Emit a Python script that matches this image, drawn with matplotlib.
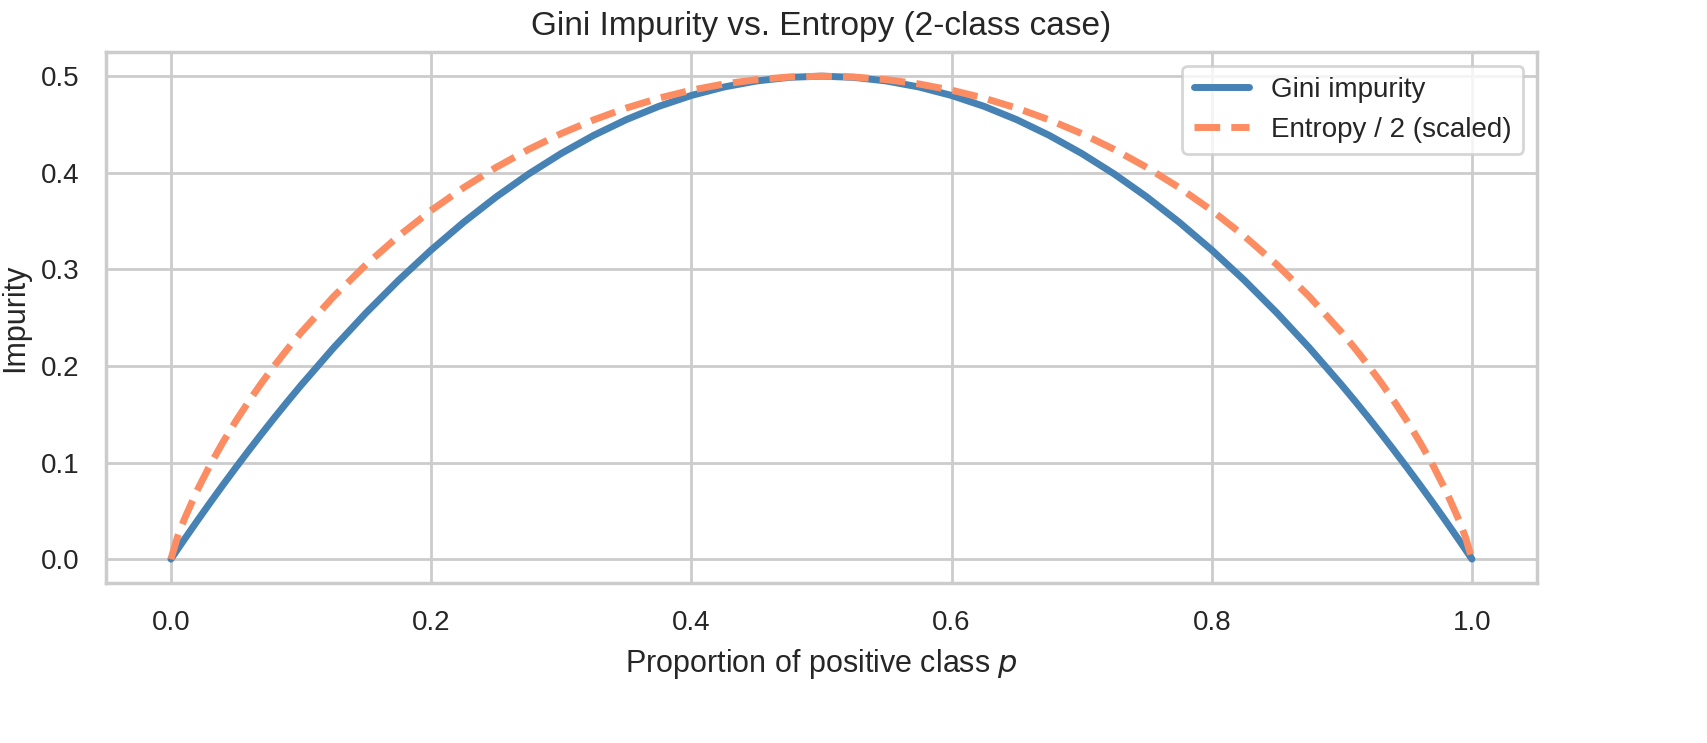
import matplotlib
matplotlib.use("Agg")
import matplotlib.pyplot as plt
import seaborn as sns

# values (left half, the curves are symmetric about p=0.5)
p_left = [0.0, 0.005, 0.01, 0.02, 0.03, 0.04, 0.05, 0.06, 0.07, 0.08, 0.09, 0.1, 0.125, 0.15, 0.175,
          0.2, 0.225, 0.25, 0.275, 0.3, 0.325, 0.35, 0.375, 0.4, 0.425, 0.45, 0.475, 0.5]
gini_left = [0.0, 0.00995, 0.0198, 0.0392, 0.0582, 0.0768, 0.095, 0.1128, 0.1302, 0.1472, 0.1638, 0.18,
             0.21875, 0.255, 0.28875, 0.32, 0.34875, 0.375, 0.39875, 0.42, 0.43875, 0.455, 0.46875,
             0.48, 0.48875, 0.495, 0.49875, 0.5]
entropy_half_left = [0.0, 0.0227, 0.0404, 0.0707, 0.0972, 0.1211, 0.1432, 0.1637, 0.1830, 0.2011, 0.2183,
                     0.2345, 0.2718, 0.3049, 0.3345, 0.3610, 0.3846, 0.4056, 0.4242, 0.4406, 0.4548,
                     0.4670, 0.4772, 0.4855, 0.4919, 0.4964, 0.4991, 0.5]

p = p_left + [round(1 - v, 3) for v in reversed(p_left[:-1])]
gini = gini_left + list(reversed(gini_left[:-1]))
entropy_half = entropy_half_left + list(reversed(entropy_half_left[:-1]))

sns.set_theme(style="whitegrid")
plt.rcParams['font.family'] = ['Liberation Sans', 'DejaVu Sans']
fig, ax = plt.subplots(figsize=(8.54, 3.715), dpi=200)

ax.plot(p, gini, color="steelblue", lw=2.5, label="Gini impurity")
ax.plot(p, entropy_half, color="#fc8d62", lw=2.5, ls="--", label="Entropy / 2 (scaled)")

ax.set_title("Gini Impurity vs. Entropy (2-class case)", fontsize=12)
ax.set_xlabel("Proportion of positive class $p$", fontsize=11)
ax.set_ylabel("Impurity", fontsize=11)
ax.tick_params(labelsize=10)
ax.legend(loc="upper right", fontsize=10)

fig.subplots_adjust(left=0.062, right=0.9, top=0.93, bottom=0.215)
fig.subplots_adjust(right=0.9)
fig.subplots_adjust(right=1537/1708)
fig.savefig("out.png", dpi=200)
